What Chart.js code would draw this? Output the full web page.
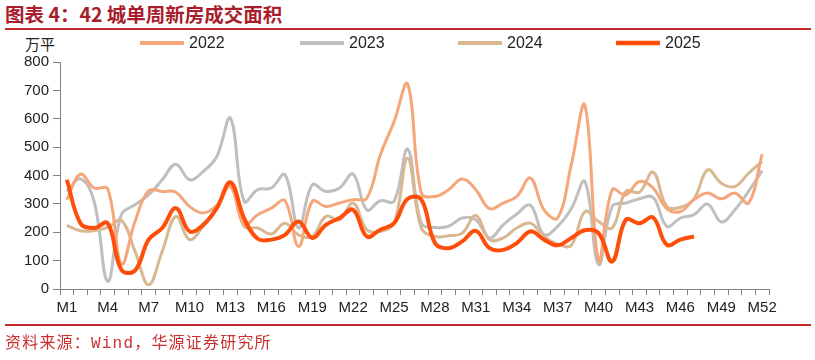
<!DOCTYPE html>
<html><head><meta charset="utf-8">
<script src="https://cdn.jsdelivr.net/npm/chart.js@4.4.1/dist/chart.umd.min.js"></script>
<style>
html,body{margin:0;padding:0;background:#fff;width:815px;height:360px;overflow:hidden;position:relative}
#title{position:absolute;left:5px;top:1px;font-family:"Noto Sans CJK SC",sans-serif;font-weight:700;font-size:19.5px;color:#A81C2C;line-height:26px;white-space:nowrap}
.rule{position:absolute;left:5px;width:806px;height:2px;background:#C0272D}
#unit{position:absolute;left:25px;top:34px;font-family:"Noto Sans CJK SC",sans-serif;font-size:15px;color:#222;line-height:20px}
#src{position:absolute;left:5px;top:334px;font-family:"Liberation Mono","Noto Sans CJK SC",monospace;font-size:16px;color:#C8312F;line-height:20px;white-space:nowrap;letter-spacing:1.2px}
canvas{position:absolute;left:0;top:0}
</style></head>
<body>
<div id="title">图表 4：42 城单周新房成交面积</div>
<div class="rule" style="top:28px"></div>
<div id="unit">万平</div>
<canvas id="c" width="815" height="360"></canvas>
<div class="rule" style="top:324px"></div>
<div id="src">资料来源：Wind，华源证券研究所</div>
<script>
const categories = ['M1','M2','M3','M4','M5','M6','M7','M8','M9','M10','M11','M12','M13','M14','M15','M16','M17','M18','M19','M20','M21','M22','M23','M24','M25','M26','M27','M28','M29','M30','M31','M32','M33','M34','M35','M36','M37','M38','M39','M40','M41','M42','M43','M44','M45','M46','M47','M48','M49','M50','M51','M52'];
const seriesNames = ['2022','2023','2024','2025'];
const s2022 = [315,405,356,353,88,238,346,344,341,291,268,295,361,226,262,285,311,150,309,291,303,315,320,473,590,722,338,326,350,388,350,283,303,326,391,279,250,438,647,100,350,332,379,356,283,273,315,338,318,338,303,475];
const s2023 = [344,388,309,27,262,297,332,385,440,385,414,467,602,309,350,356,403,215,367,344,356,405,279,311,309,493,232,217,221,250,244,180,226,264,295,191,221,283,379,86,291,303,318,323,221,250,262,299,236,279,344,417];
const s2024 = [224,205,205,217,242,133,15,133,256,174,221,285,367,221,215,194,232,191,185,256,244,303,209,203,232,461,215,185,188,197,259,174,180,215,232,185,158,154,273,238,215,344,341,412,291,288,318,420,373,361,408,450];
const s2025 = [385,232,215,232,68,65,174,215,285,203,226,285,376,250,177,174,191,238,180,226,250,279,185,209,232,318,315,162,144,168,205,144,138,162,203,174,154,180,207,197,97,244,232,252,156,174,185];
const yTicks = [0,100,200,300,400,500,600,700,800];
const colors = ['#F5A67A','#BFBFBF','#D8B890','#FF4E0A'];

Chart.defaults.font.family = "'Liberation Sans', Arial, sans-serif";
Chart.defaults.color = '#222';

const legendPlugin = {
  id: 'lineLegend',
  afterDraw(chart) {
    const ctx = chart.ctx;
    const xs = [140, 300, 458, 616];
    ctx.save();
    chart.data.datasets.forEach((ds, i) => {
      ctx.strokeStyle = ds.borderColor;
      ctx.lineWidth = i === 3 ? 4.5 : 4;
      ctx.beginPath();
      ctx.moveTo(xs[i], 43);
      ctx.lineTo(xs[i] + 44, 43);
      ctx.stroke();
      ctx.fillStyle = '#222';
      ctx.font = "16px 'Liberation Sans', Arial, sans-serif";
      ctx.textBaseline = 'middle';
      ctx.textAlign = 'left';
      ctx.fillText(ds.label, xs[i] + 49, 44);
    });
    ctx.restore();
  }
};

const mk = (label, data, i, w, order) => ({
  label, data, borderColor: colors[i], backgroundColor: colors[i],
  borderWidth: w, pointRadius: 0, tension: 0.4, fill: false, order
});

new Chart(document.getElementById('c'), {
  type: 'line',
  data: {
    labels: categories,
    datasets: [
      mk(seriesNames[0], s2022, 0, 3, 1),
      mk(seriesNames[1], s2023, 1, 3, 3),
      mk(seriesNames[2], s2024, 2, 3, 2),
      mk(seriesNames[3], s2025, 3, 4, 0)
    ]
  },
  options: {
    responsive: false,
    animation: false,
    devicePixelRatio: 1,
    layout: { padding: { top: 62, left: 0, right: 46, bottom: 41 } },
    plugins: { legend: { display: false }, tooltip: { enabled: false } },
    scales: {
      x: {
        offset: true,
        grid: { display: true, drawOnChartArea: false, drawTicks: true, tickLength: 6, color: '#808080', offset: true },
        border: { display: true, color: '#808080', width: 1 },
        ticks: {
          autoSkip: false, maxRotation: 0, minRotation: 0, padding: 4,
          font: { size: 15 }, color: '#222',
          callback: function(v, i) { return i % 3 === 0 ? categories[i] : ''; }
        },
        afterFit(s) { s.height = 30; }
      },
      y: {
        min: 0, max: 800,
        afterBuildTicks(s) { s.ticks = yTicks.map(v => ({ value: v })); },
        grid: { display: true, drawOnChartArea: false, drawTicks: true, tickLength: 7, color: '#808080' },
        border: { display: true, color: '#808080', width: 1 },
        ticks: { padding: 4, font: { size: 15 }, color: '#222' },
        afterFit(s) { s.width = 60; }
      }
    }
  },
  plugins: [legendPlugin]
});
</script>
</body></html>
